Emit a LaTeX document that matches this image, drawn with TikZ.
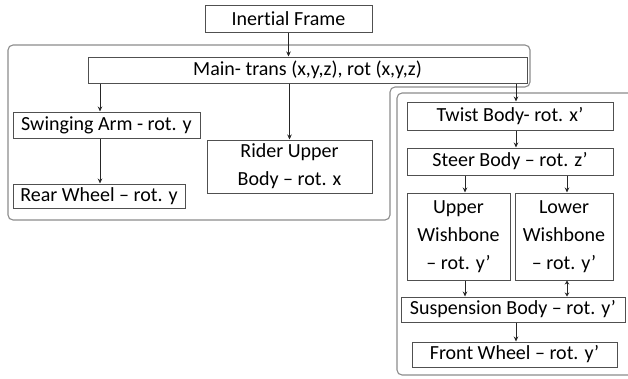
\documentclass[tikz,border=0pt]{standalone}
\usepackage{fontspec}
\setmainfont{Carlito}[Ligatures=NoCommon]
\usetikzlibrary{arrows.meta}
\definecolor{boxgray}{HTML}{505050}
\definecolor{grpgray}{HTML}{8C8C8C}
\begin{document}
\begin{tikzpicture}[x=1pt,y=-1pt,
  box/.style={draw=boxgray, line width=1pt, fill=white, inner sep=0pt, align=center,
    font=\fontsize{20}{28}\selectfont},
  arr/.style={-{Stealth[length=5pt,width=4.5pt]}, line width=0.7pt, draw=black!85},
  darr/.style={{Stealth[length=4pt,width=4.5pt]}-{Stealth[length=4pt,width=4.5pt]}, line width=0.7pt, draw=black!85},
  grp/.style={draw=grpgray, line width=1.1pt, rounded corners=5pt}]
\useasboundingbox (0,0) rectangle (628,378);
% group outlines
\draw[grp] (8,45) -- (530,45) -- (530,87) -- (390,87) -- (390,220) -- (8,220) -- cycle;
\draw[grp] (640,93) -- (397,93) -- (397,375) -- (640,375);
% nodes
\node[box, minimum width=167pt, minimum height=27pt] (inertial) at (288.5,18.5) {Inertial Frame};
\node[box, minimum width=439pt, minimum height=26pt] (main) at (307.5,70) {Main- trans (x,y,z), rot (x,y,z)};
\node[box, minimum width=187pt, minimum height=26pt] (swing) at (106.5,125) {Swinging Arm - rot. y};
\node[box, minimum width=165pt, minimum height=53pt] (rider) at (289.5,166.5) {Rider Upper\\Body – rot. x};
\node[box, minimum width=172pt, minimum height=24pt] (rear) at (99,196) {Rear Wheel – rot. y};
\node[box, minimum width=206pt, minimum height=28pt] (twist) at (510,116) {Twist Body- rot. x’};
\node[box, minimum width=206pt, minimum height=27pt] (steer) at (510,161.5) {Steer Body – rot. z’};
\node[box, minimum width=103pt, minimum height=87pt] (upper) at (458.5,236.5) {Upper\\Wishbone\\– rot. y’};
\node[box, minimum width=98pt, minimum height=87pt] (lower) at (564,236.5) {Lower\\Wishbone\\– rot. y’};
\node[box, minimum width=224pt, minimum height=25pt] (susp) at (513,309.5) {Suspension Body – rot. y’};
\node[box, minimum width=205pt, minimum height=25pt] (front) at (514.5,354.5) {Front Wheel – rot. y’};
% x references
\coordinate (cx) at (516,0);
\coordinate (ux) at (465,0);
\coordinate (lx) at (567,0);
\coordinate (sx) at (100,0);
% connectors
\draw[arr] (inertial.south) -- (main.north -| inertial.south);
\draw[arr] (main.south -| sx) -- (swing.north -| sx);
\draw[arr] (swing.south -| sx) -- (rear.north -| sx);
\draw[arr] (main.south -| rider.north) -- (rider.north);
\draw[arr] (main.south -| cx) -- (twist.north -| cx);
\draw[arr] (twist.south -| cx) -- (steer.north -| cx);
\draw[arr] (steer.south -| ux) -- (upper.north -| ux);
\draw[arr] (steer.south -| lx) -- (lower.north -| lx);
\draw[arr] (upper.south -| ux) -- (susp.north -| ux);
\draw[darr] (lower.south -| lx) -- (susp.north -| lx);
\draw[arr] (susp.south -| cx) -- (front.north -| cx);
\end{tikzpicture}
\end{document}
